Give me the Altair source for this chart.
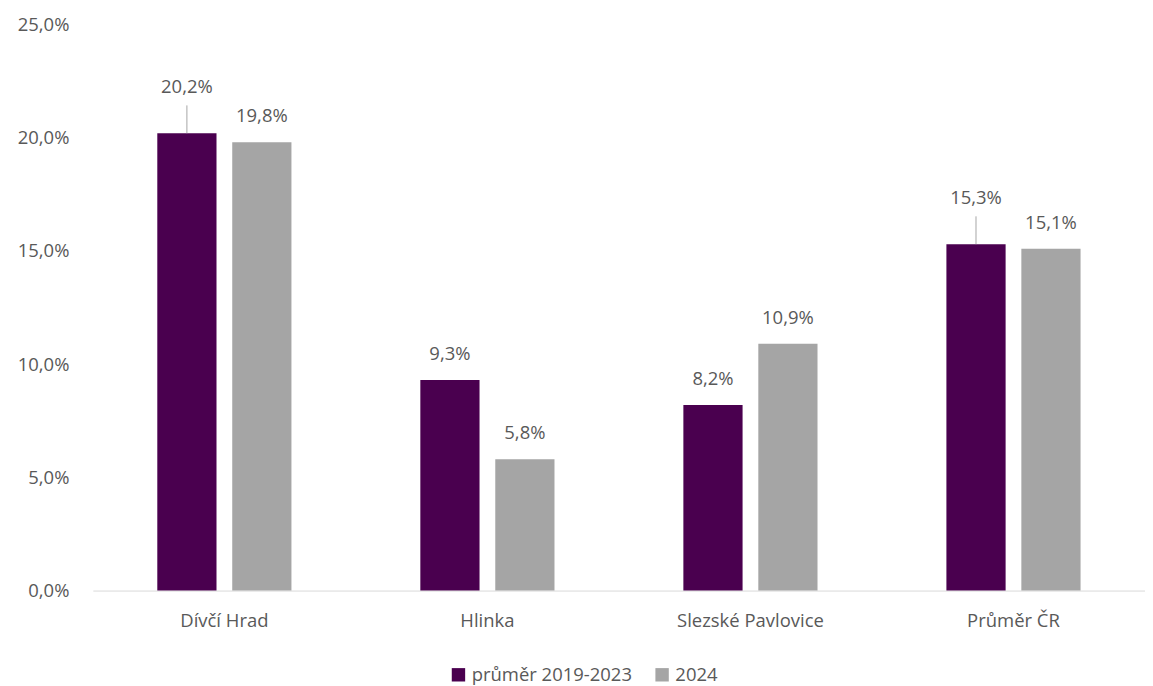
import altair as alt
import pandas as pd

categories = ["Dívčí Hrad", "Hlinka", "Slezské Pavlovice", "Průměr ČR"]
series_names = ["průměr 2019-2023", "2024"]
values_avg = [20.2, 9.3, 8.2, 15.3]
values_2024 = [19.8, 5.8, 10.9, 15.1]
lifted_labels = ["Dívčí Hrad", "Průměr ČR"]  # labels of the first series shown with a leader line

rows = []
for c, v in zip(categories, values_avg):
    rows.append({"cat": c, "series": series_names[0], "value": v,
                 "lifted": (c in lifted_labels)})
for c, v in zip(categories, values_2024):
    rows.append({"cat": c, "series": series_names[1], "value": v, "lifted": False})
df = pd.DataFrame(rows)
df["label"] = df["value"].map(lambda v: f"{v:.1f}%".replace(".", ","))

FONT = "Open Sans"
TXT = "#595959"
FS = 18.5
colors = ["#4A004F", "#A5A5A5"]

x = alt.X("cat:N", sort=categories, title=None,
          scale=alt.Scale(paddingInner=0.49, paddingOuter=0.245),
          axis=alt.Axis(labelAngle=0, ticks=False, domainColor="#D9D9D9",
                        labelFontSize=FS, labelColor=TXT, labelFont=FONT,
                        labelPadding=21))
xo = alt.XOffset("series:N", sort=series_names,
                 scale=alt.Scale(paddingInner=0.21, paddingOuter=0))
y = alt.Y("value:Q", title=None,
          scale=alt.Scale(domain=[0, 25], nice=False, zero=True),
          axis=alt.Axis(values=[0, 5, 10, 15, 20, 25], grid=False, domain=False,
                        ticks=False, labelFontSize=FS, labelColor=TXT,
                        labelFont=FONT, labelPadding=24,
                        labelExpr="replace(format(datum.value, '.1f'), '.', ',') + '%'"))

base = alt.Chart(df)

bars = base.mark_bar().encode(
    x=x, xOffset=xo, y=y,
    color=alt.Color("series:N", sort=series_names,
                    scale=alt.Scale(domain=series_names, range=colors),
                    legend=alt.Legend(title=None, orient="none", direction="horizontal",
                                      legendX=357, legendY=642,
                                      symbolType="square", symbolSize=180,
                                      symbolStrokeWidth=0, labelLimit=0,
                                      labelFontSize=FS, labelColor=TXT, labelFont=FONT,
                                      columnPadding=20, labelOffset=4)),
)

labels_normal = base.transform_filter("!datum.lifted").mark_text(
    baseline="middle", dy=-26, fontSize=FS, font=FONT, color=TXT
).encode(x=x, xOffset=xo, y=y, text="label:N")

labels_lifted = base.transform_filter("datum.lifted").mark_text(
    baseline="middle", dy=-46, fontSize=FS, font=FONT, color=TXT
).encode(x=x, xOffset=xo, y=y, text="label:N")

leaders = base.transform_filter("datum.lifted").transform_calculate(
    top="datum.value + 1.23"
).mark_rule(color="#A6A6A6", strokeWidth=1).encode(
    x=x, xOffset=xo, y=y, y2="top:Q"
)

chart = alt.layer(bars, leaders, labels_normal, labels_lifted).resolve_scale(
    y="shared"
).properties(
    width=1054, height=567,
    autosize=alt.AutoSizeParams(type="none"),
    padding={"left": 85, "top": 16, "right": 0, "bottom": 100},
).configure(font=FONT).configure_view(stroke=None)

chart.save("out.html", embed_options={"renderer": "svg", "actions": False})
